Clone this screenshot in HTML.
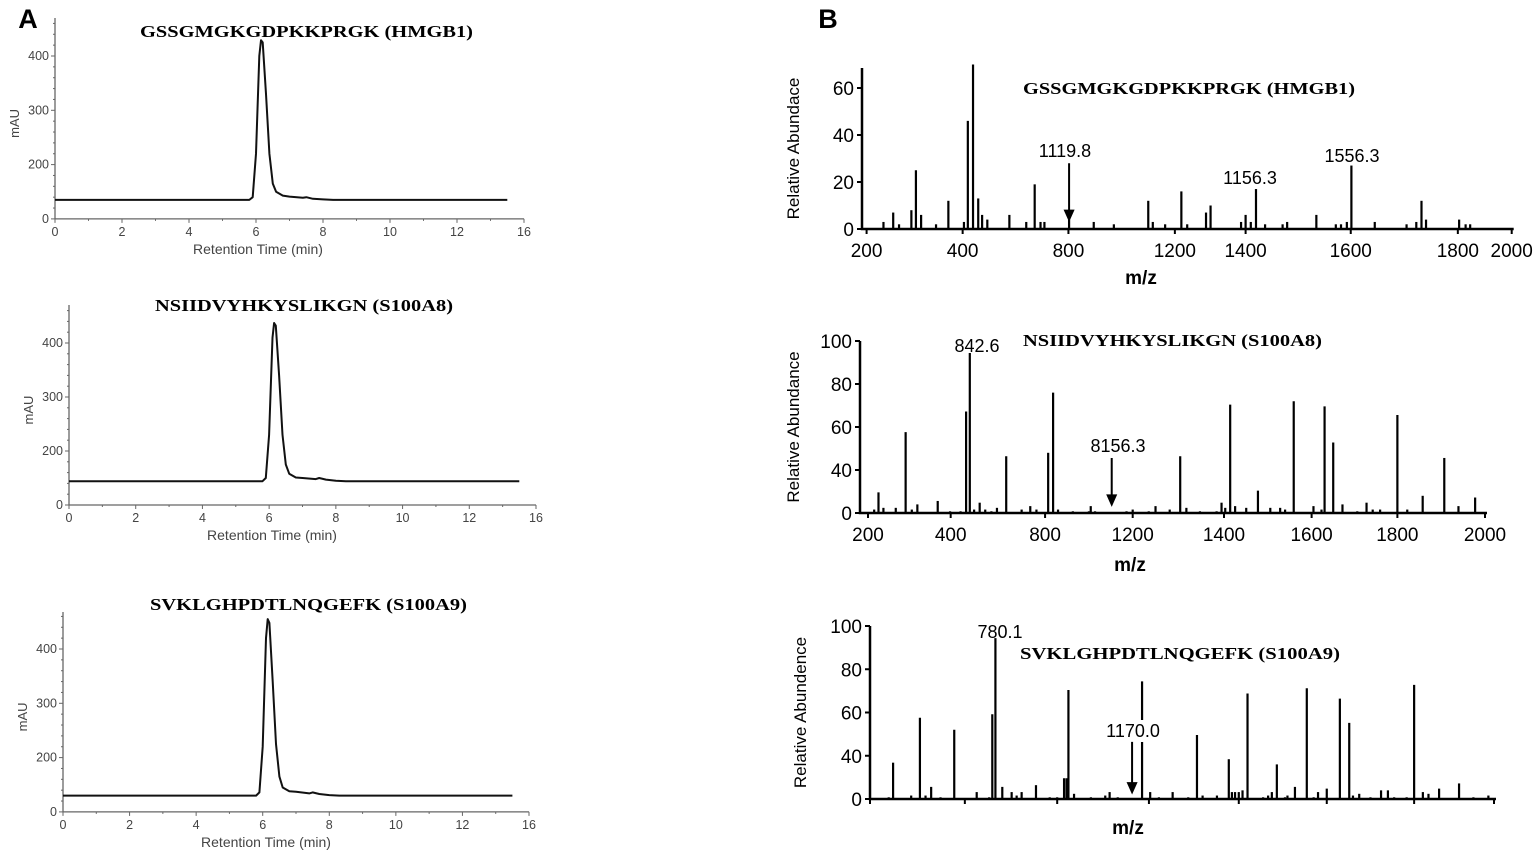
<!DOCTYPE html>
<html><head><meta charset="utf-8"><style>
html,body{margin:0;padding:0;background:#fff;}
svg{display:block;font-family:"Liberation Sans",Arial,sans-serif;}
.ser{font-family:"Liberation Serif","Times New Roman",serif;font-weight:bold;}
</style></head><body>
<svg id="fig" width="1535" height="856" viewBox="0 0 1535 856" xmlns="http://www.w3.org/2000/svg">
<text x="28" y="28" font-size="27" font-weight="bold" text-anchor="middle">A</text>
<text x="828" y="28" font-size="27" font-weight="bold" text-anchor="middle">B</text>
<g id="root"></g>
</svg>
<script>
// ---------- Chromatogram data (panel A) ----------
const rtTimes = [0,5.8,5.9,6.0,6.1,6.15,6.2,6.3,6.4,6.5,6.6,6.8,7.0,7.4,7.5,7.7,8.0,8.3,13.5];
const mauHMGB1 = [135,135,140,220,400,429,425,330,220,165,150,143,141,139,140,137,136,135,135];
const mauS100A8 = [144,144,150,230,410,437,432,340,230,175,158,151,150,148,150,147,145,144,144];
const mauS100A9 = [130,130,136,220,420,455,448,340,225,165,145,138,137,134,136,133,131,130,130];
const rtTickValues = [0,2,4,6,8,10,12,14];
const rtTickLabels = ['0','2','4','6','8','10','12','16'];
const mauTickValues = [100,200,300,400];
const mauTickLabels = ['0','200','300','400'];

// ---------- Mass spectra data (panel B), x in relative axis units ----------
const msHMGB1Pos = [3.2,4.7,5.6,7.5,8.2,9.0,11.3,13.2,15.6,16.2,17.0,17.8,18.4,19.2,22.6,25.2,26.5,27.4,28.0,31.8,35.6,38.7,44.0,44.7,46.6,49.1,50.0,52.9,53.6,58.3,59.0,59.8,60.6,62.0,64.7,65.4,69.9,72.9,73.7,74.6,75.3,78.9,83.8,85.3,86.1,86.8,91.9,92.9,93.6];
const msHMGB1Val = [3,7,2,8,25,6,2,12,3,46,70,13,6,4,6,3,19,3,3,4,3,2,12,3,2,16,2,7,10,3,6,3,17,2,2,3,6,2,2,3,27,3,2,3,12,4,4,2,2];
const msS100A8Pos = [1.0,1.7,2.5,4.5,6.1,7.1,8.0,11.3,13.3,15.0,15.9,16.5,17.2,18.1,19.0,20.0,20.9,22.4,24.9,26.3,27.3,29.2,30.0,30.8,33.2,35.8,36.1,36.8,41.9,42.9,45.5,46.6,48.9,50.6,51.6,53.8,56.5,57.3,57.9,58.7,59.5,61.3,63.2,65.2,66.8,67.6,69.0,72.2,73.5,74.0,75.4,76.9,79.3,80.8,81.8,83.0,85.8,87.4,89.9,93.4,95.7,98.4];
const msS100A8Val = [2,12,3,3,47,2,5,7,1,1,59,93,2,6,2,1,3,33,2,4,2,35,70,2,1,1,4,1,1,2,1,4,2,33,3,1,1,6,3,63,4,3,13,3,3,2,65,4,2,62,41,5,1,6,2,2,57,2,10,32,4,9];
const msS100A9Pos = [3.0,3.7,6.6,8.0,8.9,9.8,11.3,13.5,17.1,19.1,19.6,20.1,21.2,22.7,23.5,24.3,26.6,28.8,30.0,31.1,31.5,31.8,32.7,35.4,37.7,38.4,39.7,43.6,44.9,46.3,48.5,51.0,52.4,53.3,55.6,57.5,58.0,58.5,59.1,59.7,60.5,63.0,63.8,64.4,65.2,66.5,66.9,68.1,70.0,71.1,71.8,73.2,75.3,76.8,77.4,78.4,80.2,81.9,83.0,84.0,86.0,87.2,88.6,89.5,91.2,94.4,96.7,99.1];
const msS100A9Val = [1,21,2,47,2,7,1,40,4,1,49,93,7,4,2,4,8,1,1,12,12,63,3,1,2,4,1,68,4,1,4,1,37,2,2,23,4,4,4,5,61,1,2,4,20,1,2,7,64,1,4,6,58,44,2,3,1,5,5,1,1,66,4,3,6,9,1,2];
const msTopTicks = [0.6,15.4,31.7,48.1,59.0,75.2,91.7,100];
const msMidTicks = [0,13.4,28.7,42.9,57.7,71.9,85.8,100];
const msBotTicks = [0,15.2,30.0,44.7,59.1,73.2,87.2,100];
const mzTickLabels = ['200','400','800','1200','1400','1600','1800','2000'];
const abTopTickValues = [0,20,40,60];
const abTopTickLabels = ['0','20','40','60'];
const abTickValues = [0,25,50,75,100];
const abTickLabels = ['0','40','60','80','100'];

const NS='http://www.w3.org/2000/svg';
const root=document.getElementById('root');
function mk(tag,attrs,parent,text){const e=document.createElementNS(NS,tag);for(const k in attrs)e.setAttribute(k,attrs[k]);if(text!==undefined)e.textContent=text;(parent||root).appendChild(e);return e;}

// ---------- Chromatograms ----------
function chrom(c){
  const g=mk('g',{});
  
  
  const xs=t=>c.x0+t*(c.x14-c.x0)/14;
  const ys=v=>c.y400+(400-v)*c.k;
  const yb=ys(100);
  const ax=mk('path',{d:`M${c.x0},${c.yTop}V${yb}H${c.x14}`,fill:'none',stroke:'#666','stroke-width':1.3},g);
  
  
  for(let t=0;t<=14;t++){mk('line',{x1:xs(t),x2:xs(t),y1:yb,y2:yb+(t%2?2:4),stroke:'#666','stroke-width':1},g);}
  for(let v=100;v<=460;v+=20){mk('line',{x1:c.x0,x2:c.x0-(v%100?2:4),y1:ys(v),y2:ys(v),stroke:'#666','stroke-width':1},g);}
  rtTickValues.forEach((t,i)=>{const l=mk('text',{x:xs(t),y:yb+17,'font-size':12.5,fill:'#444','text-anchor':'middle'},g,rtTickLabels[i]);
    
    });
  mauTickValues.forEach((v,i)=>{const l=mk('text',{x:c.x0-6,y:ys(v)+4,'font-size':12.5,fill:'#444','text-anchor':'end'},g,mauTickLabels[i]);
    
    });
  const xt=mk('text',{x:c.x0+203,y:yb+35,'font-size':14,fill:'#444','text-anchor':'middle'},g,'Retention Time (min)');
  
  
  const yt=mk('text',{x:0,y:0,'font-size':13,fill:'#444','text-anchor':'middle',transform:`translate(${c.x0-36},${(c.yTop+yb)/2+5}) rotate(-90)`},g,'mAU');
  
  
  const tt=mk('text',{x:c.tx,y:c.ty,'font-size':17,class:'ser',textLength:c.tw,lengthAdjust:'spacingAndGlyphs'},g,c.title);
  
  
  let d='';c.vals.forEach((v,i)=>{d+=(i?'L':'M')+xs(rtTimes[i]).toFixed(1)+','+ys(v).toFixed(1);});
  const p=mk('path',{d:d,fill:'none',stroke:'#111','stroke-width':2,'stroke-linejoin':'round'},g);
  
  
}
chrom({name:'chromatogram-hmgb1',x0:55,x14:524,y400:56,k:0.543,yTop:18,vals:mauHMGB1,title:'GSSGMGKGDPKKPRGK (HMGB1)',tx:140,ty:37,tw:333});
chrom({name:'chromatogram-s100a8',x0:69,x14:536,y400:343,k:0.54,yTop:305,vals:mauS100A8,title:'NSIIDVYHKYSLIKGN (S100A8)',tx:155,ty:311,tw:298});
chrom({name:'chromatogram-s100a9',x0:63,x14:529,y400:649,k:0.543,yTop:612,vals:mauS100A9,title:'SVKLGHPDTLNQGEFK (S100A9)',tx:150,ty:610,tw:317});

// ---------- Mass spectra ----------
function ms(c){
  const g=mk('g',{});
  
  
  const xs=u=>c.xa+u*c.ku;
  const ys=v=>c.y0-v*c.kv;
  c.pos.forEach((u,i)=>{const b=mk('line',{x1:xs(u),x2:xs(u),y1:c.y0,y2:ys(c.val[i]),stroke:'#000','stroke-width':2.2},g);
    
    });
  const ax=mk('path',{d:`M${c.yAxX},${c.yTop}V${c.y0}H${xs(100)+2}`,fill:'none',stroke:'#000','stroke-width':2.5},g);
  
  
  c.ticks.forEach((u,i)=>{mk('line',{x1:xs(u),x2:xs(u),y1:c.y0,y2:c.y0+5,stroke:'#000','stroke-width':2},g);
    if(c.xlabels){const l=mk('text',{x:xs(u),y:c.y0+28,'font-size':19,'text-anchor':'middle'},g,c.xlabels[i]);
      
      }});
  c.yv.forEach((v,i)=>{mk('line',{x1:c.yAxX,x2:c.yAxX-5,y1:ys(v),y2:ys(v),stroke:'#000','stroke-width':2},g);
    const l=mk('text',{x:c.yAxX-8,y:ys(v)+7,'font-size':19,'text-anchor':'end'},g,c.yl[i]);
    
    });
  const xt=mk('text',{x:c.mzX,y:c.mzY,'font-size':19,'font-weight':'bold','text-anchor':'middle'},g,'m/z');
  
  
  const yt=mk('text',{x:0,y:0,'font-size':17,'text-anchor':'middle',transform:`translate(${c.ytX},${(c.yTop+c.y0)/2}) rotate(-90)`},g,c.ytitle);
  
  
  const tt=mk('text',{x:c.tx,y:c.ty,'font-size':17,class:'ser',textLength:c.tw,lengthAdjust:'spacingAndGlyphs'},g,c.title);
  
  
  c.ann.forEach(a=>{
    if(a.bg){mk('rect',{x:a.x-32,y:a.y-17,width:64,height:22,fill:'#fff'},g);}
    const l=mk('text',{x:a.x,y:a.y,'font-size':18,'text-anchor':'middle'},g,a.t);
    
    });
  if(c.arrow){const ax2=xs(c.arrow.u);const y1=ys(c.arrow.from),y2=ys(c.arrow.to);
    const ar=mk('path',{d:`M${ax2},${y1}V${y2}M${ax2-4},${y2-9}L${ax2},${y2}L${ax2+4},${y2-9}Z`,stroke:'#000','stroke-width':2,fill:'#000'},g);
    
    }
}
ms({name:'spectrum-hmgb1',xa:862.7,ku:6.49,y0:229,kv:2.35,yTop:68,yAxX:862,pos:msHMGB1Pos,val:msHMGB1Val,ticks:msTopTicks,xlabels:mzTickLabels,
  yv:abTopTickValues,yl:abTopTickLabels,mzX:1141,mzY:284,ytX:799,ytitle:'Relative Abundace',title:'GSSGMGKGDPKKPRGK (HMGB1)',tx:1023,ty:94,tw:332,
  ann:[{x:1065,y:157,t:'1119.8'},{x:1250,y:184,t:'1156.3'},{x:1352,y:162,t:'1556.3'}],arrow:{u:31.8,from:28,to:4}});
ms({name:'spectrum-s100a8',xa:868,ku:6.17,y0:513,kv:1.72,yTop:341,yAxX:860,pos:msS100A8Pos,val:msS100A8Val,ticks:msMidTicks,xlabels:mzTickLabels,
  yv:abTickValues,yl:abTickLabels,mzX:1130,mzY:571,ytX:799,ytitle:'Relative Abundance',title:'NSIIDVYHKYSLIKGN (S100A8)',tx:1023,ty:346,tw:299,
  ann:[{x:977,y:352,t:'842.6'},{x:1118,y:452,t:'8156.3'}],arrow:{u:39.5,from:32,to:5}});
ms({name:'spectrum-s100a9',xa:870,ku:6.24,y0:799,kv:1.73,yTop:626,yAxX:870,pos:msS100A9Pos,val:msS100A9Val,ticks:msBotTicks,xlabels:null,
  yv:abTickValues,yl:abTickLabels,mzX:1128,mzY:834,ytX:806,ytitle:'Relative Abundence',title:'SVKLGHPDTLNQGEFK (S100A9)',tx:1020,ty:659,tw:320,
  ann:[{x:1000,y:638,t:'780.1'},{x:1133,y:737,t:'1170.0',bg:true}],arrow:{u:42.0,from:33,to:4}});
</script>
</body></html>
